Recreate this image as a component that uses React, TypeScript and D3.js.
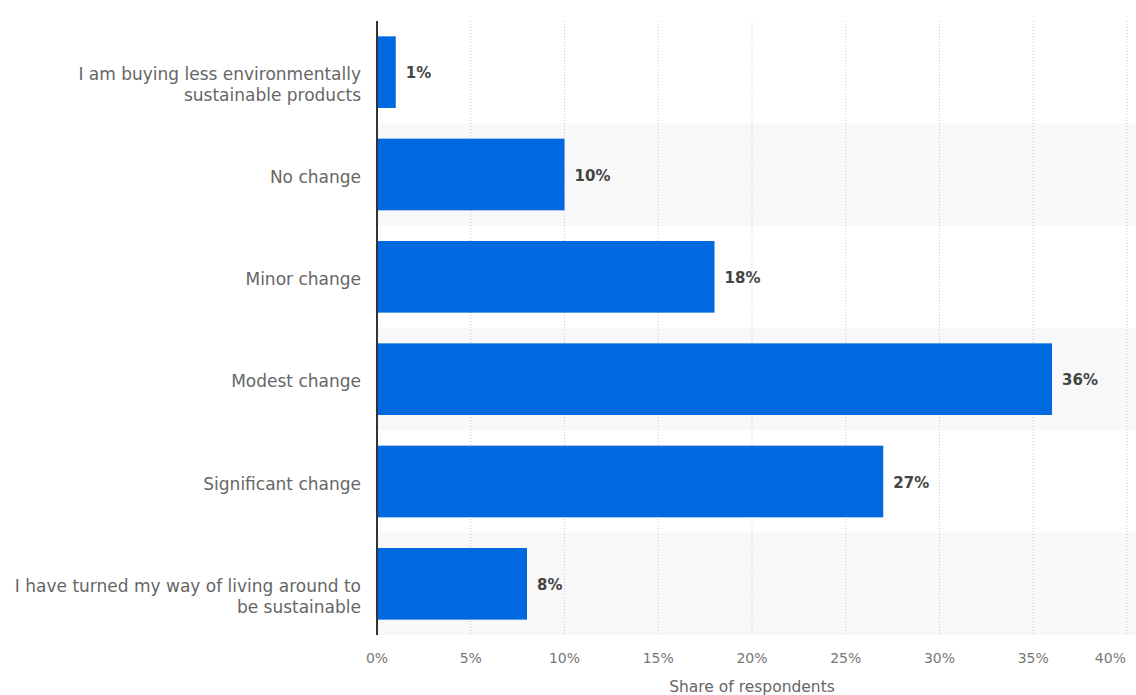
import React from "react";
import * as d3 from "d3";

const categories: string[][] = [
  ["I am buying less environmentally", "sustainable products"],
  ["No change"],
  ["Minor change"],
  ["Modest change"],
  ["Significant change"],
  ["I have turned my way of living around to", "be sustainable"],
];
const values: number[] = [1, 10, 18, 36, 27, 8];
const xTicks: number[] = [0, 5, 10, 15, 20, 25, 30, 35, 40];
const axisTitle = "Share of respondents";

const W = 1136;
const H = 695;
const M = { left: 377, right: 9, top: 21, bottom: 60 };

export default function App() {
  const x = d3.scaleLinear().domain([0, 40]).range([M.left, W - M.right]);
  const ids = categories.map((_, i) => String(i));
  const y = d3
    .scaleBand<string>()
    .domain(ids)
    .range([M.top, H - M.bottom])
    .paddingInner(0.3)
    .paddingOuter(0.15);
  const step = y.step();
  const font = "'DejaVu Sans', 'Lucida Grande', sans-serif";
  const lastTick = xTicks[xTicks.length - 1];

  return (
    <svg width={W} height={H} style={{ position: "absolute", left: 0, top: 0, background: "#fff" }} fontFamily={font}>
      {ids.map((id, i) =>
        i % 2 === 1 ? (
          <rect key={"bg" + id} x={M.left} y={M.top + i * step} width={W - M.left} height={step} fill="#f8f8f8" />
        ) : null
      )}
      {xTicks.slice(1).map((t) => (
        <line key={"g" + t} x1={x(t)} x2={x(t)} y1={M.top} y2={H - M.bottom} stroke="#c8c8c8" strokeDasharray="1,2" />
      ))}
      {values.map((v, i) => (
        <rect key={"b" + i} x={x(0)} y={y(String(i))!} width={x(v) - x(0)} height={y.bandwidth()} fill="#0069e0" />
      ))}
      {values.map((v, i) => (
        <text key={"v" + i} x={x(v) + 10} y={y(String(i))! + y.bandwidth() / 2 + 1} dy="0.35em" fontSize={15} fontWeight="bold" fill="#444">
          {v}%
        </text>
      ))}
      {categories.map((lines, i) => {
        const cy = y(String(i))! + y.bandwidth() / 2;
        const lh = 21;
        const base = cy + 8;
        return (
          <text key={"c" + i} x={M.left - 16} textAnchor="end" fontSize={17} fill="#666">
            {lines.map((l, j) => (
              <tspan key={j} x={M.left - 16} y={base + j * lh}>
                {l}
              </tspan>
            ))}
          </text>
        );
      })}
      <line x1={M.left} x2={M.left} y1={M.top} y2={H - M.bottom} stroke="#333" strokeWidth={2} />
      {xTicks.map((t) => (
        <text
          key={"t" + t}
          x={t === lastTick ? x(t) - 1 : x(t)}
          y={658}
          dy="0.35em"
          textAnchor={t === lastTick ? "end" : "middle"}
          fontSize={14}
          fill="#777"
        >
          {t}%
        </text>
      ))}
      <text x={(x(0) + x(40)) / 2} y={687} dy="0.35em" textAnchor="middle" fontSize={15.5} fill="#666">
        {axisTitle}
      </text>
    </svg>
  );
}
